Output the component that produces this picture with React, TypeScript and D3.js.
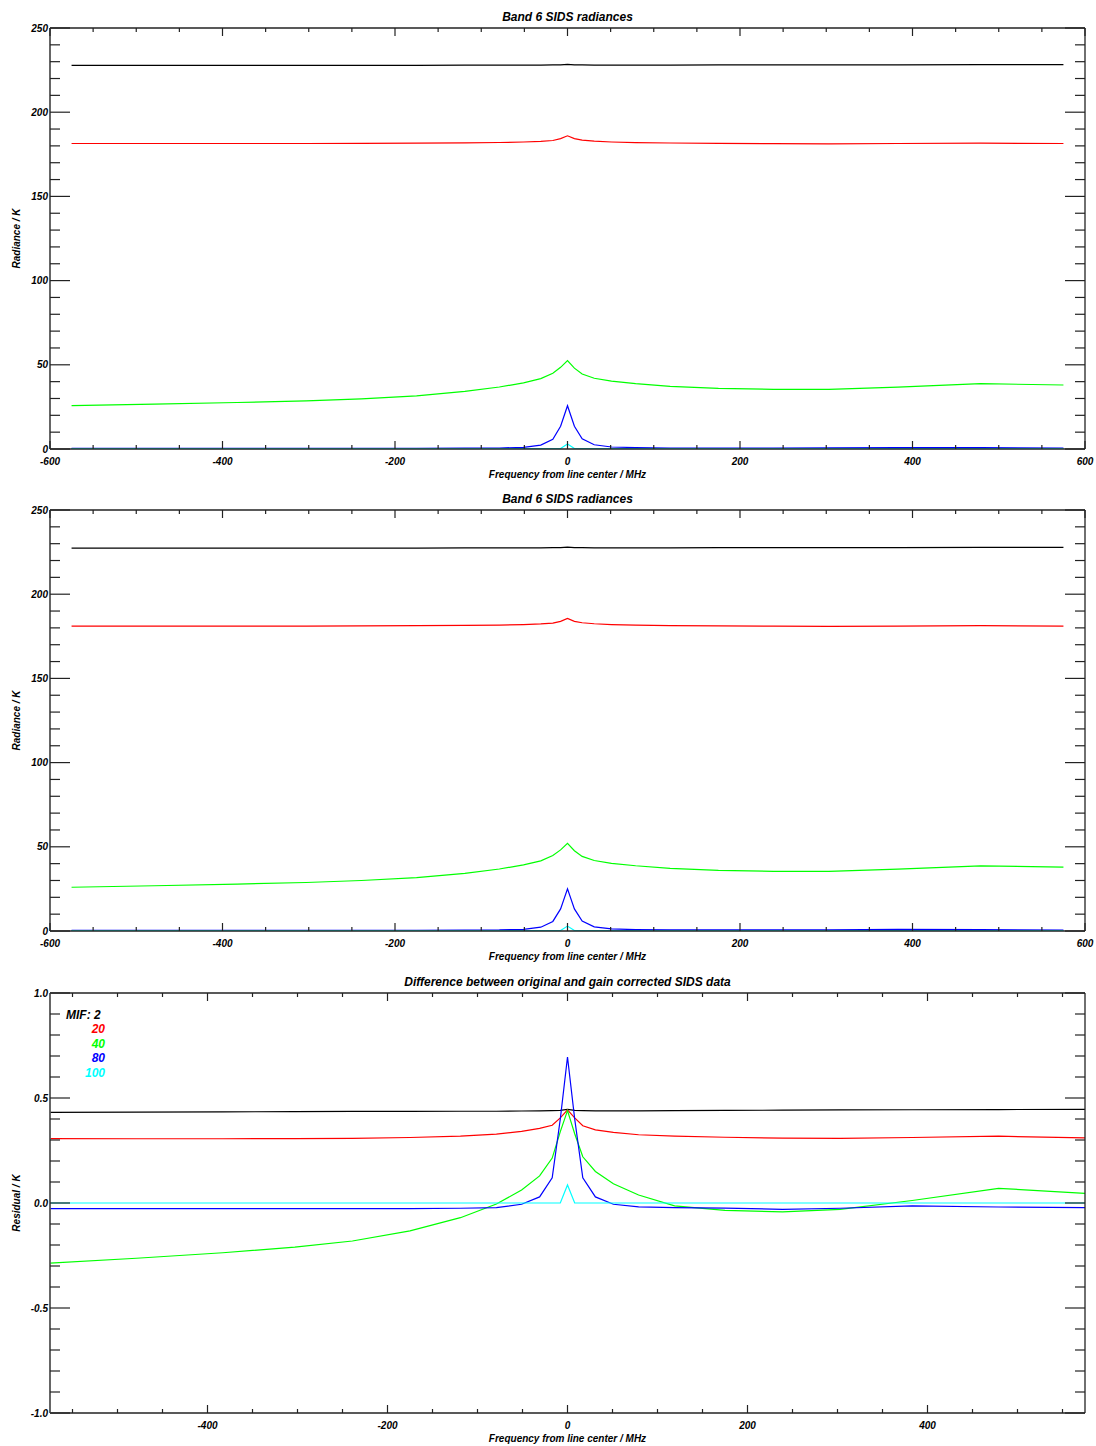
import React from "react";
import * as d3 from "d3";

// Channel offsets from line centre (MHz)
const freqs = [-575, -479, -383, -303, -239, -175, -119, -79, -51, -31, -17, -8, 0, 8, 17, 31, 51, 79, 119, 175, 239, 303, 383, 479, 575];

const mifLabels = ["2", "20", "40", "80", "100"];
const mifColors = ["#000000", "#ff0000", "#00ff00", "#0000ff", "#00ffff"];

// Panel 1: original radiances (K)
const origMif2 = [227.8, 227.8, 227.8, 227.8, 227.8, 227.85, 227.9, 227.9, 228.0, 228.0, 228.05, 228.1, 228.4, 228.1, 228.05, 228.0, 228.0, 228.0, 228.0, 228.05, 228.1, 228.1, 228.15, 228.2, 228.25];
const origMif20 = [181.4, 181.4, 181.4, 181.4, 181.5, 181.6, 181.8, 182.0, 182.3, 182.7, 183.2, 184.3, 186.0, 184.3, 183.4, 182.8, 182.3, 181.9, 181.7, 181.5, 181.3, 181.2, 181.4, 181.6, 181.4];
const origMif40 = [25.7, 26.6, 27.6, 28.6, 29.8, 31.6, 34.2, 36.8, 39.3, 41.8, 45.0, 48.5, 52.5, 48.0, 44.5, 42.0, 40.3, 38.8, 37.2, 36.0, 35.4, 35.4, 36.8, 38.8, 38.0];
const origMif80 = [0.4, 0.4, 0.4, 0.4, 0.4, 0.4, 0.5, 0.6, 1.0, 2.3, 5.8, 13.5, 25.7, 13.5, 6.0, 2.5, 1.2, 0.8, 0.6, 0.6, 0.6, 0.7, 0.9, 0.8, 0.5];
const origMif100 = [0.2, 0.2, 0.2, 0.2, 0.2, 0.2, 0.2, 0.2, 0.2, 0.2, 0.2, 0.3, 3.0, 0.3, 0.2, 0.2, 0.2, 0.2, 0.2, 0.2, 0.2, 0.2, 0.2, 0.2, 0.2];

// Panel 2: gain corrected radiances (K)
const corrMif2 = [227.37, 227.37, 227.37, 227.37, 227.37, 227.42, 227.47, 227.47, 227.56, 227.56, 227.61, 227.66, 227.95, 227.66, 227.61, 227.56, 227.56, 227.56, 227.56, 227.61, 227.66, 227.66, 227.71, 227.76, 227.8];
const corrMif20 = [181.09, 181.09, 181.09, 181.09, 181.19, 181.29, 181.48, 181.67, 181.96, 182.34, 182.83, 183.9, 185.56, 183.9, 183.03, 182.45, 181.96, 181.58, 181.38, 181.19, 180.99, 180.89, 181.09, 181.28, 181.09];
const corrMif40 = [25.99, 26.86, 27.84, 28.81, 29.98, 31.73, 34.27, 36.81, 39.24, 41.67, 44.79, 48.16, 52.06, 47.67, 44.28, 41.85, 40.21, 38.76, 37.21, 36.04, 35.44, 35.43, 36.79, 38.73, 37.95];
const corrMif80 = [0.43, 0.43, 0.43, 0.43, 0.43, 0.43, 0.53, 0.62, 1.01, 2.27, 5.68, 13.1, 25.0, 13.1, 5.88, 2.47, 1.21, 0.82, 0.62, 0.62, 0.63, 0.73, 0.91, 0.82, 0.52];
const corrMif100 = [0.2, 0.2, 0.2, 0.2, 0.2, 0.2, 0.2, 0.2, 0.2, 0.2, 0.2, 0.3, 2.91, 0.3, 0.2, 0.2, 0.2, 0.2, 0.2, 0.2, 0.2, 0.2, 0.2, 0.2, 0.2];

// Panel 3: residual (K)
const diffMif2 = [0.432, 0.433, 0.434, 0.435, 0.436, 0.436, 0.437, 0.437, 0.438, 0.439, 0.440, 0.441, 0.446, 0.441, 0.440, 0.439, 0.439, 0.439, 0.440, 0.441, 0.442, 0.443, 0.444, 0.445, 0.446];
const diffMif20 = [0.307, 0.306, 0.306, 0.307, 0.308, 0.312, 0.318, 0.328, 0.341, 0.355, 0.37, 0.405, 0.443, 0.405, 0.368, 0.348, 0.336, 0.325, 0.318, 0.313, 0.309, 0.308, 0.312, 0.318, 0.31];
const diffMif40 = [-0.286, -0.263, -0.237, -0.21, -0.181, -0.133, -0.07, -0.005, 0.062, 0.129, 0.214, 0.34, 0.44, 0.33, 0.22, 0.15, 0.092, 0.038, -0.014, -0.035, -0.042, -0.03, 0.012, 0.07, 0.046];
const diffMif80 = [-0.027, -0.027, -0.027, -0.027, -0.027, -0.027, -0.025, -0.022, -0.006, 0.029, 0.12, 0.40, 0.695, 0.40, 0.12, 0.029, -0.006, -0.018, -0.022, -0.024, -0.03, -0.025, -0.014, -0.019, -0.022];
const diffMif100 = [0, 0, 0, 0, 0, 0, 0, 0, 0, 0, 0, 0, 0.086, 0, 0, 0, 0, 0, 0, 0, 0, 0, 0, 0, 0];

const radXTicks = [-600, -400, -200, 0, 200, 400, 600];
const radYTicks = [0, 50, 100, 150, 200, 250];
const resXTicks = [-400, -200, 0, 200, 400];
const resYTicks = [-1.0, -0.5, 0.0, 0.5, 1.0];

const FONT = "'Liberation Sans', Arial, Helvetica, sans-serif";
const L = 50;
const R = 1085;

type PanelProps = {
  top: number;
  bottom: number;
  title: string;
  ylabel: string;
  xDomain: [number, number];
  yDomain: [number, number];
  xTicks: number[];
  yTicks: number[];
  xMinorStep: number;
  yMinorStep: number;
  yFmt: (v: number) => string;
  series: number[][];
  legend?: boolean;
  id: string;
};

function Panel(p: PanelProps) {
  const x = d3.scaleLinear().domain(p.xDomain).range([L, R]);
  const y = d3.scaleLinear().domain(p.yDomain).range([p.bottom, p.top]);
  const line = d3
    .line<number>()
    .x((_, i) => x(freqs[i]))
    .y((v) => y(v));
  const xMinor = d3.range(
    Math.ceil(p.xDomain[0] / p.xMinorStep) * p.xMinorStep,
    p.xDomain[1] + 1e-9,
    p.xMinorStep
  );
  const yMinor = d3.range(p.yDomain[0], p.yDomain[1] + 1e-9, p.yMinorStep);
  const axisColor = "#222";
  const midY = (p.top + p.bottom) / 2;
  const midX = (L + R) / 2;
  return (
    <g>
      <defs>
        <clipPath id={p.id}>
          <rect x={L} y={p.top} width={R - L} height={p.bottom - p.top} />
        </clipPath>
      </defs>
      <text x={midX} y={p.top - 7} textAnchor="middle" fontFamily={FONT} fontSize={12} fontWeight="bold" fontStyle="italic">
        {p.title}
      </text>
      <g clipPath={`url(#${p.id})`}>
        {p.series.map((s, i) => (
          <path key={i} d={line(s) || ""} fill="none" stroke={mifColors[i]} strokeWidth={1.2} />
        ))}
      </g>
      {/* frame */}
      <line x1={L} x2={R} y1={p.top} y2={p.top} stroke={axisColor} strokeWidth={1.3} />
      <line x1={L} x2={R} y1={p.bottom} y2={p.bottom} stroke={axisColor} strokeWidth={1.3} />
      <line x1={R} x2={R} y1={p.top} y2={p.bottom} stroke={axisColor} strokeWidth={1.3} />
      <line x1={L} x2={L} y1={p.top} y2={p.bottom} stroke="#555" strokeWidth={1.8} />
      {/* x ticks */}
      {xMinor.map((v, i) => {
        const major = p.xTicks.some((t) => Math.abs(t - v) < 1e-6);
        const len = major ? 8 : 4;
        const xx = x(v);
        return (
          <g key={"xt" + i}>
            <line x1={xx} x2={xx} y1={p.bottom} y2={p.bottom - len} stroke={axisColor} strokeWidth={1.2} />
            <line x1={xx} x2={xx} y1={p.top} y2={p.top + len} stroke={axisColor} strokeWidth={1.2} />
          </g>
        );
      })}
      {/* y ticks */}
      {yMinor.map((v, i) => {
        const major = p.yTicks.some((t) => Math.abs(t - v) < 1e-6);
        const len = major ? 20 : 10;
        const yy = y(v);
        return (
          <g key={"yt" + i}>
            <line x1={L} x2={L + len} y1={yy} y2={yy} stroke={axisColor} strokeWidth={1.2} />
            <line x1={R} x2={R - len} y1={yy} y2={yy} stroke={axisColor} strokeWidth={1.2} />
          </g>
        );
      })}
      {p.xTicks.map((v) => (
        <text key={"xl" + v} x={x(v)} y={p.bottom + 16} textAnchor="middle" fontFamily={FONT} fontSize={10} fontWeight="bold" fontStyle="italic">
          {String(v)}
        </text>
      ))}
      {p.yTicks.map((v) => (
        <text key={"yl" + v} x={L - 2} y={y(v)} dy="0.35em" textAnchor="end" fontFamily={FONT} fontSize={10} fontWeight="bold" fontStyle="italic">
          {p.yFmt(v)}
        </text>
      ))}
      <text x={midX} y={p.bottom + 29} textAnchor="middle" fontFamily={FONT} fontSize={10} fontWeight="bold" fontStyle="italic">
        Frequency from line center / MHz
      </text>
      <text
        transform={`translate(20,${midY}) rotate(-90)`}
        textAnchor="middle"
        fontFamily={FONT}
        fontSize={10}
        fontWeight="bold"
        fontStyle="italic"
      >
        {p.ylabel}
      </text>
      {p.legend && (
        <g fontFamily={FONT} fontSize={12} fontWeight="bold" fontStyle="italic">
          <text x={66} y={p.top + 26}>{"MIF: " + mifLabels[0]}</text>
          {mifLabels.slice(1).map((lab, i) => (
            <text key={lab} x={105} y={p.top + 40 + i * 14.7} textAnchor="end" fill={mifColors[i + 1]}>
              {lab}
            </text>
          ))}
        </g>
      )}
    </g>
  );
}

export default function App() {
  return (
    <svg
      width={1096}
      height={1446}
      style={{ position: "absolute", left: 0, top: 0, background: "#fff" }}
    >
      <rect x={0} y={0} width={1096} height={1446} fill="#fff" />
      <Panel
        id="c1"
        top={28}
        bottom={449}
        title="Band 6 SIDS radiances"
        ylabel="Radiance / K"
        xDomain={[-600, 600]}
        yDomain={[0, 250]}
        xTicks={radXTicks}
        yTicks={radYTicks}
        xMinorStep={50}
        yMinorStep={10}
        yFmt={(v) => String(v)}
        series={[origMif2, origMif20, origMif40, origMif80, origMif100]}
      />
      <Panel
        id="c2"
        top={510}
        bottom={931}
        title="Band 6 SIDS radiances"
        ylabel="Radiance / K"
        xDomain={[-600, 600]}
        yDomain={[0, 250]}
        xTicks={radXTicks}
        yTicks={radYTicks}
        xMinorStep={50}
        yMinorStep={10}
        yFmt={(v) => String(v)}
        series={[corrMif2, corrMif20, corrMif40, corrMif80, corrMif100]}
      />
      <Panel
        id="c3"
        top={993}
        bottom={1413}
        title="Difference between original and gain corrected SIDS data"
        ylabel="Residual / K"
        xDomain={[-575, 575]}
        yDomain={[-1, 1]}
        xTicks={resXTicks}
        yTicks={resYTicks}
        xMinorStep={50}
        yMinorStep={0.1}
        yFmt={(v) => v.toFixed(1)}
        series={[diffMif2, diffMif20, diffMif40, diffMif80, diffMif100]}
        legend
      />
    </svg>
  );
}
